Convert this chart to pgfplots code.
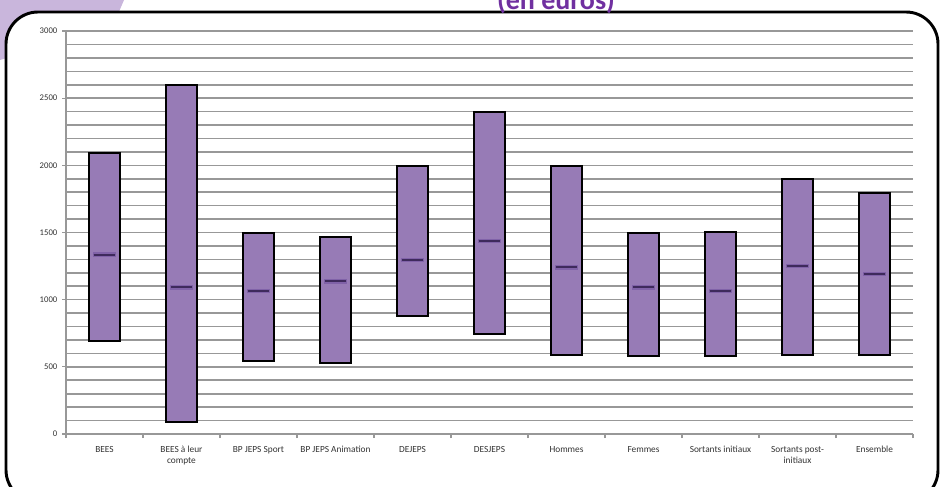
\documentclass[border=0pt]{standalone}
\usepackage{pgfplots}
\pgfplotsset{compat=1.18}
\usepgfplotslibrary{statistics}
\usepackage{fontspec}
\setmainfont{Carlito}

\definecolor{barfill}{RGB}{151,123,182}
\definecolor{medhalo}{RGB}{128,98,168}
\definecolor{meddark}{RGB}{62,42,92}
\definecolor{gridgray}{RGB}{152,152,152}
\definecolor{lavender}{RGB}{201,182,220}
\definecolor{titlepurple}{RGB}{112,48,160}

\begin{document}
\begin{tikzpicture}
\clip (0,0) rectangle (705.75pt,364.5pt);
% decoration behind the frame
\fill[lavender] (0,364.5pt) -- (93pt,364.5pt) -- (84pt,343.5pt) -- (0,319.5pt) -- cycle;
\draw[black, line width=2.2pt, fill=white, rounded corners=24pt]
  (4.5pt,-12pt) rectangle (703.5pt,355.5pt);
\node[anchor=base, text=titlepurple, font=\fontsize{21}{25}\selectfont\bfseries]
  at (417pt,357.5pt) {(en euros)};

\begin{axis}[
    at={(49.5pt,39pt)}, anchor=south west,
    scale only axis,
    width=635.25pt, height=302.25pt,
    xmin=0.5, xmax=11.5,
    ymin=0, ymax=3000,
    axis x line*=bottom, axis y line*=left,
    axis line style={gridgray, line width=1.2pt},
    xtick={0.5,1.5,...,11.5},
    x tick label as interval,
    xticklabels={BEES, BEES à leur\\compte, BP JEPS Sport, BP JEPS Animation, DEJEPS,
      DESJEPS, Hommes, Femmes, Sortants initiaux, Sortants post-\\initiaux, Ensemble},
    xticklabel style={font=\fontsize{7}{8.3}\selectfont, align=center, text=black!80,
      yshift=-2.5pt},
    ytick={0,500,...,3000},
    minor y tick num=4,
    ymajorgrids, yminorgrids,
    major grid style={draw=gridgray, line width=1.2pt},
    minor grid style={draw=gridgray, line width=1.2pt},
    tick align=outside,
    major tick length=3pt,
    minor tick length=0pt,
    tick style={draw=gridgray, line width=0.9pt},
    yticklabel style={font=\fontsize{6.5}{7.5}\selectfont, text=black!80},
    /pgf/number format/1000 sep={},
    /pgf/number format/assume math mode=true,
    boxplot/draw direction=y,
    boxplot/box extend=0.4,
    boxplot/draw/lower whisker/.code={},
    boxplot/draw/upper whisker/.code={
      \draw[black, line width=0.8pt]
        (boxplot cs:\pgfplotsboxplotvalue{upper quartile}) --
        (boxplot cs:\pgfplotsboxplotvalue{upper whisker});
    },
    boxplot/draw/median/.code={
      \draw[medhalo, line width=3.4pt]
        (boxplot box cs:\pgfplotsboxplotvalue{median},0.13) --
        (boxplot box cs:\pgfplotsboxplotvalue{median},0.87);
      \draw[meddark, line width=1.5pt]
        (boxplot box cs:\pgfplotsboxplotvalue{median},0.15) --
        (boxplot box cs:\pgfplotsboxplotvalue{median},0.85);
    },
]
% BEES
\addplot[boxplot prepared={draw position=1, lower whisker=695, lower quartile=695,
  median=1336, upper quartile=2092, upper whisker=2100},
  draw=black, fill=barfill, line width=1.5pt] coordinates {};
% BEES a leur compte
\addplot[boxplot prepared={draw position=2, lower whisker=90, lower quartile=90,
  median=1092, upper quartile=2597, upper whisker=2606},
  draw=black, fill=barfill, line width=1.5pt] coordinates {};
% BP JEPS Sport
\addplot[boxplot prepared={draw position=3, lower whisker=545, lower quartile=545,
  median=1065, upper quartile=1495, upper whisker=1495},
  draw=black, fill=barfill, line width=1.5pt] coordinates {};
% BP JEPS Animation
\addplot[boxplot prepared={draw position=4, lower whisker=530, lower quartile=530,
  median=1137, upper quartile=1463, upper whisker=1463},
  draw=black, fill=barfill, line width=1.5pt] coordinates {};
% DEJEPS
\addplot[boxplot prepared={draw position=5, lower whisker=875, lower quartile=875,
  median=1294, upper quartile=1997, upper whisker=1997},
  draw=black, fill=barfill, line width=1.5pt] coordinates {};
% DESJEPS
\addplot[boxplot prepared={draw position=6, lower whisker=742, lower quartile=742,
  median=1438, upper quartile=2398, upper whisker=2398},
  draw=black, fill=barfill, line width=1.5pt] coordinates {};
% Hommes
\addplot[boxplot prepared={draw position=7, lower whisker=590, lower quartile=590,
  median=1241, upper quartile=1997, upper whisker=1997},
  draw=black, fill=barfill, line width=1.5pt] coordinates {};
% Femmes
\addplot[boxplot prepared={draw position=8, lower whisker=577, lower quartile=577,
  median=1092, upper quartile=1495, upper whisker=1495},
  draw=black, fill=barfill, line width=1.5pt] coordinates {};
% Sortants initiaux
\addplot[boxplot prepared={draw position=9, lower whisker=577, lower quartile=577,
  median=1065, upper quartile=1503, upper whisker=1503},
  draw=black, fill=barfill, line width=1.5pt] coordinates {};
% Sortants post-initiaux
\addplot[boxplot prepared={draw position=10, lower whisker=590, lower quartile=590,
  median=1251, upper quartile=1897, upper whisker=1897},
  draw=black, fill=barfill, line width=1.5pt] coordinates {};
% Ensemble
\addplot[boxplot prepared={draw position=11, lower whisker=590, lower quartile=590,
  median=1192, upper quartile=1795, upper whisker=1801},
  draw=black, fill=barfill, line width=1.5pt] coordinates {};
\end{axis}
\end{tikzpicture}
\end{document}
